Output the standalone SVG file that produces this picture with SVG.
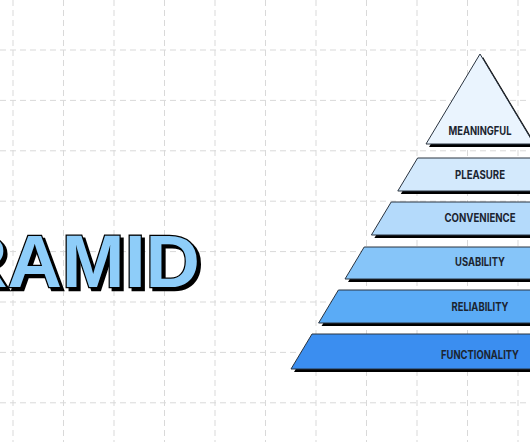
<svg xmlns="http://www.w3.org/2000/svg" width="530" height="442" viewBox="0 0 530 442">
  <defs>
    <style>
      .grid line { stroke: #d9d9d9; stroke-width: 1; stroke-dasharray: 6 4; }
      .layer { stroke: #2b3440; stroke-width: 1; stroke-linejoin: miter; }
      .shadow { fill: #000; }
      .lbl { font-family: Inter, "Liberation Sans", sans-serif; font-weight: 700; font-size: 11.5px; fill: #1b2430; text-anchor: middle; }
      .big { font-family: "Liberation Sans", Arial, sans-serif; font-weight: 700; font-size: 75px; }
    </style>
    <filter id="drop" x="-10%" y="-20%" width="130%" height="150%">
      <feOffset in="SourceAlpha" dx="3" dy="3" result="o"/>
      <feMerge>
        <feMergeNode in="o"/>
        <feMergeNode in="SourceGraphic"/>
      </feMerge>
    </filter>
  </defs>
  <rect x="0" y="0" width="530" height="442" fill="#ffffff"/>
  <g class="grid">
    <line x1="13" y1="0" x2="13" y2="442"/>
    <line x1="63.5" y1="0" x2="63.5" y2="442"/>
    <line x1="114" y1="0" x2="114" y2="442"/>
    <line x1="164.5" y1="0" x2="164.5" y2="442"/>
    <line x1="215" y1="0" x2="215" y2="442"/>
    <line x1="265.5" y1="0" x2="265.5" y2="442"/>
    <line x1="316" y1="0" x2="316" y2="442"/>
    <line x1="366.5" y1="0" x2="366.5" y2="442"/>
    <line x1="417" y1="0" x2="417" y2="442"/>
    <line x1="467.5" y1="0" x2="467.5" y2="442"/>
    <line x1="518" y1="0" x2="518" y2="442"/>
    <line x1="0" y1="50" x2="530" y2="50"/>
    <line x1="0" y1="100.4" x2="530" y2="100.4"/>
    <line x1="0" y1="150.8" x2="530" y2="150.8"/>
    <line x1="0" y1="201.2" x2="530" y2="201.2"/>
    <line x1="0" y1="251.6" x2="530" y2="251.6"/>
    <line x1="0" y1="302" x2="530" y2="302"/>
    <line x1="0" y1="352.4" x2="530" y2="352.4"/>
    <line x1="0" y1="402.8" x2="530" y2="402.8"/>
  </g>

  <g id="title" filter="url(#drop)">
    <text class="big" x="-47" y="287" fill="#8ecdf9" stroke="#000" stroke-width="2.5" paint-order="stroke" textLength="247" lengthAdjust="spacingAndGlyphs">RAMID</text>
  </g>

  <g id="meaningful">
    <polygon class="shadow" points="483,57 537,147 429,147"/>
    <polygon class="layer" fill="#eaf4fe" points="480,54 534,144 426,144"/>
    <text class="lbl" x="480" y="134.5" textLength="63" lengthAdjust="spacingAndGlyphs">MEANINGFUL</text>
  </g>
  <g id="pleasure">
    <polygon class="shadow" points="420.6,161 545.4,161 565.2,194 400.8,194"/>
    <polygon class="layer" fill="#d3e9fc" points="417.6,158 542.4,158 562.2,191 397.8,191"/>
    <text class="lbl" x="480" y="178.7" textLength="50" lengthAdjust="spacingAndGlyphs">PLEASURE</text>
  </g>
  <g id="convenience">
    <polygon class="shadow" points="394.2,205 568.8,205 588.6,238 374.4,238"/>
    <polygon class="layer" fill="#b4dafb" points="391.2,202 568.8,202 588.6,235 371.4,235"/>
    <text class="lbl" x="480" y="222.3" textLength="71" lengthAdjust="spacingAndGlyphs">CONVENIENCE</text>
  </g>
  <g id="usability">
    <polygon class="shadow" points="367.2,250 598.8,250 618,282 348,282"/>
    <polygon class="layer" fill="#86c5f9" points="364.2,247 595.8,247 615,279 345,279"/>
    <text class="lbl" x="480" y="266.3" textLength="50" lengthAdjust="spacingAndGlyphs">USABILITY</text>
  </g>
  <g id="reliability">
    <polygon class="shadow" points="341.4,293 624.6,293 644.4,326 321.6,326"/>
    <polygon class="layer" fill="#5aabf6" points="338.4,290 621.6,290 641.4,323 318.6,323"/>
    <text class="lbl" x="480" y="311.3" textLength="57" lengthAdjust="spacingAndGlyphs">RELIABILITY</text>
  </g>
  <g id="functionality">
    <polygon class="shadow" points="315,337 651,337 672,372 294,372"/>
    <polygon class="layer" fill="#3b8ef0" points="312,334 648,334 669,369 291,369"/>
    <text class="lbl" x="480" y="358.7" textLength="78" lengthAdjust="spacingAndGlyphs">FUNCTIONALITY</text>
  </g>
  <g id="connectors"></g>
</svg>
